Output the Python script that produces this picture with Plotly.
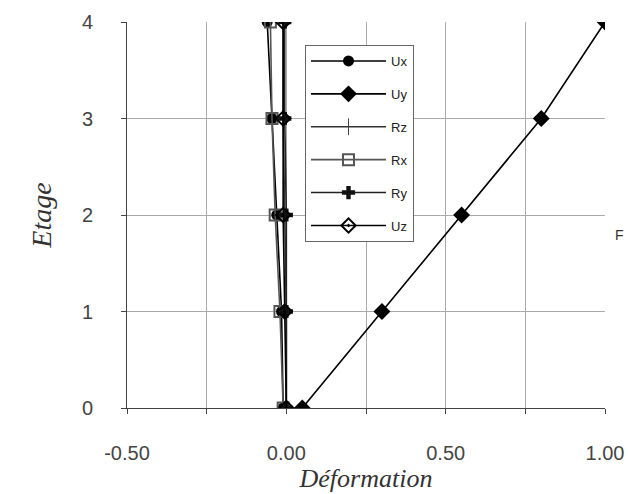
import plotly.graph_objects as go

# Floor levels and displacement / rotation per degree of freedom
etage = [0, 1, 2, 3, 4]
ux = [-0.01, -0.015, -0.03, -0.045, -0.06]
uy = [0.05, 0.30, 0.55, 0.80, 1.00]
rz = [0.0, 0.0, -0.005, -0.01, -0.01]
rx = [-0.01, -0.02, -0.035, -0.045, -0.05]
ry = [0.0, 0.0, 0.0, -0.005, -0.005]
uz = [0.0, -0.005, -0.01, -0.01, -0.01]

x_ticks = [-0.5, 0.0, 0.5, 1.0]
x_tick_text = ["-0.50", "0.00", "0.50", "1.00"]
y_ticks = [0, 1, 2, 3, 4]

series = [
    ("Ux", ux, dict(symbol="circle", size=11, color="black"), "black"),
    ("Uy", uy, dict(symbol="diamond", size=13, color="black"), "black"),
    ("Rz", rz, dict(symbol="line-ns-open", size=12, color="#444", line=dict(width=1, color="#444")), "#333"),
    ("Rx", rx, dict(symbol="square-open", size=11, color="#555", line=dict(width=2, color="#555")), "#555"),
    ("Ry", ry, dict(symbol="cross", size=11, color="#111"), "#222"),
    ("Uz", uz, dict(symbol="diamond-open-dot", size=11, color="black", line=dict(width=2, color="black")), "black"),
]

fig = go.Figure()
for i, (name, xs, marker, lc) in enumerate(series):
    fig.add_trace(go.Scatter(
        x=xs, y=etage, name=name, mode="lines+markers",
        marker=marker, line=dict(color=lc, width=1.6),
        legendgroup=f"g{i}",
    ))

# small label at the right edge
fig.add_annotation(
    text="F", x=(626 - 127) / (605 - 127), y=(408 - 235) / (408 - 22),
    xref="paper", yref="paper", showarrow=False, xanchor="right", yanchor="middle",
    font=dict(size=14, color="#333", family="Liberation Sans"),
)

fig.update_layout(
    width=628, height=494,
    margin=dict(l=127, r=23, t=22, b=86),
    paper_bgcolor="white", plot_bgcolor="white",
    font=dict(family="Liberation Sans", color="#333"),
    showlegend=True,
    legend=dict(
        x=(305 - 127) / (605 - 127), y=(408 - 45) / (408 - 22),
        xanchor="left", yanchor="top",
        bgcolor="white", bordercolor="#666", borderwidth=1,
        font=dict(size=13, family="Liberation Sans Narrow, Liberation Sans", color="#222"),
        tracegroupgap=13, itemwidth=75,
    ),
    xaxis=dict(
        range=[-0.5, 1.0], tickvals=x_ticks, ticktext=x_tick_text,
        automargin=False,
        showgrid=True, gridcolor="#aaa", gridwidth=1,
        minor=dict(dtick=0.25, showgrid=True, gridcolor="#aaa", ticks="outside", ticklen=5, tickcolor="#444"),
        ticks="outside", ticklen=5, tickcolor="#444",
        showline=True, linecolor="#444", linewidth=1,
        zeroline=False, tickfont=dict(size=20, color="#444"),
        ticklabelstandoff=22,
        title=dict(text="<i>Déformation</i>", font=dict(size=26, family="Liberation Serif", color="#333"),
                   standoff=4),
    ),
    yaxis=dict(
        range=[0, 4], tickvals=y_ticks,
        automargin=False,
        showgrid=True, gridcolor="#aaa", gridwidth=1,
        ticks="outside", ticklen=5, tickcolor="#444",
        showline=True, linecolor="#444", linewidth=1,
        zeroline=False, tickfont=dict(size=20, color="#444"),
        ticklabelstandoff=24,
        title=dict(text="<i>Etage</i>", font=dict(size=28, family="Liberation Serif", color="#333"),
                   standoff=22),
    ),
)

fig.write_html("out.html")
